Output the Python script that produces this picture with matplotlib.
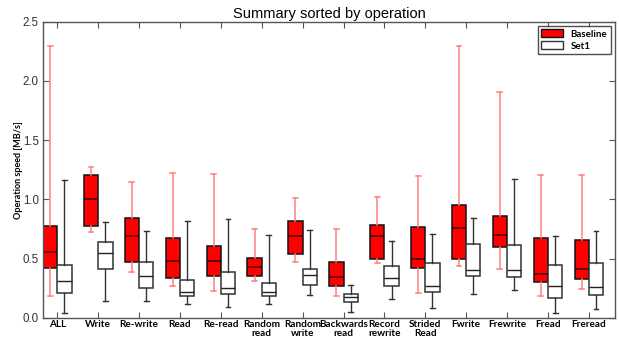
import matplotlib
matplotlib.use("Agg")
import matplotlib.pyplot as plt
from matplotlib.patches import Patch

categories = ["ALL", "Write", "Re-write", "Read", "Re-read", "Random\nread",
              "Random\nwrite", "Backwards\nread", "Record\nrewrite", "Strided\nRead",
              "Fwrite", "Frewrite", "Fread", "Freread"]

# five-number summaries: whisker low, q1, median, q3, whisker high
baseline_lo  = [0.18, 0.72, 0.39, 0.265, 0.222, 0.307, 0.47, 0.18, 0.465, 0.211, 0.439, 0.408, 0.18, 0.239]
baseline_q1  = [0.417, 0.774, 0.473, 0.335, 0.349, 0.355, 0.541, 0.265, 0.495, 0.417, 0.498, 0.594, 0.298, 0.329]
baseline_med = [0.552, 1.0, 0.693, 0.476, 0.476, 0.428, 0.687, 0.341, 0.693, 0.495, 0.76, 0.698, 0.369, 0.411]
baseline_q3  = [0.777, 1.202, 0.839, 0.673, 0.605, 0.507, 0.814, 0.467, 0.78, 0.769, 0.952, 0.859, 0.673, 0.656]
baseline_hi  = [2.297, 1.273, 1.149, 1.219, 1.216, 0.752, 1.011, 0.752, 1.022, 1.194, 2.297, 1.903, 1.205, 1.202]

set1_lo  = [0.037, 0.138, 0.138, 0.115, 0.093, 0.115, 0.189, 0.045, 0.155, 0.082, 0.197, 0.234, 0.037, 0.07]
set1_q1  = [0.206, 0.408, 0.25, 0.183, 0.197, 0.18, 0.276, 0.13, 0.265, 0.214, 0.355, 0.343, 0.169, 0.189]
set1_med = [0.313, 0.543, 0.349, 0.22, 0.25, 0.22, 0.358, 0.172, 0.335, 0.27, 0.403, 0.403, 0.265, 0.259]
set1_q3  = [0.448, 0.636, 0.467, 0.315, 0.386, 0.296, 0.414, 0.2, 0.434, 0.459, 0.619, 0.617, 0.448, 0.465]
set1_hi  = [1.166, 0.81, 0.732, 0.814, 0.836, 0.701, 0.738, 0.276, 0.648, 0.709, 0.845, 1.168, 0.687, 0.729]


def make_stats(lo, q1, med, q3, hi):
    return [dict(whislo=a, q1=b, med=c, q3=d, whishi=e, fliers=[])
            for a, b, c, d, e in zip(lo, q1, med, q3, hi)]


fig = plt.figure(figsize=(6.19, 3.39), dpi=100)
ax = fig.add_axes([43 / 619, 1 - 317.7 / 339, 572 / 619, (317.7 - 21.7) / 339])

w = 0.35
pos = list(range(1, len(categories) + 1))
pos_base = [p - w / 2 for p in pos]
pos_set1 = [p + w / 2 for p in pos]

ax.bxp(make_stats(baseline_lo, baseline_q1, baseline_med, baseline_q3, baseline_hi),
       positions=pos_base, widths=w, capwidths=0.12, patch_artist=True, showfliers=False,
       boxprops=dict(facecolor="#ff0000", edgecolor="#111111", linewidth=1.1),
       whiskerprops=dict(color="#ff7f7f", linewidth=1.1, linestyle="-"),
       capprops=dict(color="#ff7f7f", linewidth=1.1),
       medianprops=dict(color="#400000", linewidth=1.1))

ax.bxp(make_stats(set1_lo, set1_q1, set1_med, set1_q3, set1_hi),
       positions=pos_set1, widths=w, capwidths=0.12, patch_artist=True, showfliers=False,
       boxprops=dict(facecolor="white", edgecolor="#333333", linewidth=1.1),
       whiskerprops=dict(color="#333333", linewidth=1.0, linestyle="-"),
       capprops=dict(color="#333333", linewidth=1.0),
       medianprops=dict(color="#222222", linewidth=1.0))

ax.set_xlim(1 - w, len(categories) + 0.64)
ax.set_ylim(0, 2.5)
ax.set_xticks(pos)
ax.set_xticklabels(categories, fontfamily="Lato", fontweight="bold", fontsize=7.2,
                   linespacing=1.0)
ax.set_yticks([0.0, 0.5, 1.0, 1.5, 2.0, 2.5])
ax.set_yticklabels(["0.0", "0.5", "1.0", "1.5", "2.0", "2.5"],
                   fontfamily="Liberation Sans", fontsize=8.3, color="#333333")
ax.tick_params(direction="in", top=True, right=True, length=4, width=0.8,
               color="#555555")
ax.tick_params(axis="x", pad=2)
ax.tick_params(axis="y", pad=3)
for s in ax.spines.values():
    s.set_color("#555555")
    s.set_linewidth(1.0)

ax.set_title("Summary sorted by operation", fontfamily="Liberation Sans",
             fontsize=10.5, pad=3)
ax.set_ylabel("Operation speed [MB/s]", fontfamily="Lato", fontweight="bold",
              fontsize=6.5, labelpad=0)

handles = [Patch(facecolor="#ff0000", edgecolor="#111111", label="Baseline"),
           Patch(facecolor="white", edgecolor="#333333", label="Set1")]
leg = ax.legend(handles=handles, loc="upper right", fancybox=False,
                prop=dict(family="Lato", weight="bold", size=7),
                handlelength=2.2, handleheight=0.8, borderpad=0.4,
                labelspacing=0.3, borderaxespad=0.4)
leg.get_frame().set_edgecolor("#222222")
leg.get_frame().set_linewidth(1.0)

fig.savefig("out.png", dpi=100, facecolor="white")
